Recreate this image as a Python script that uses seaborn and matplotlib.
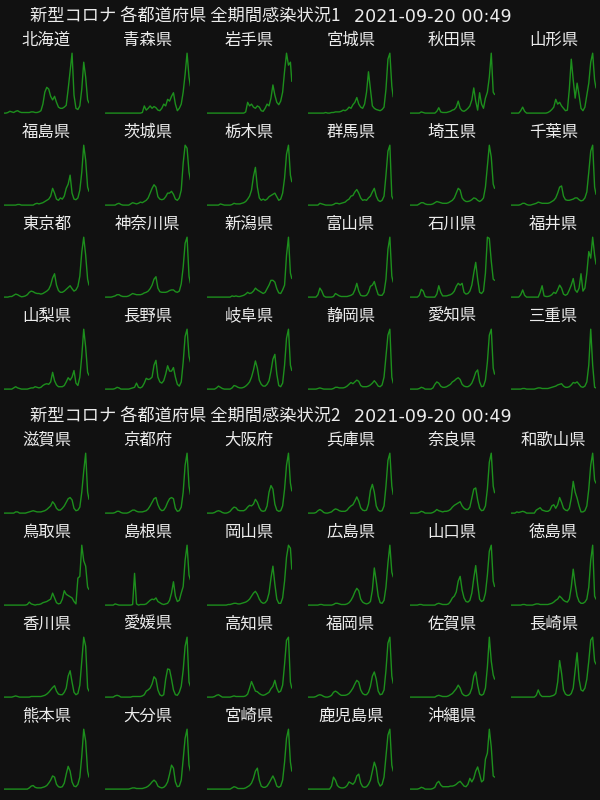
import pandas as pd
import matplotlib.pyplot as plt
import seaborn as sns

# 14日刻みの日付 (最後は 2021-09-19)
dates = list(pd.date_range('2020-01-16', periods=44, freq='14D')) + [pd.Timestamp('2021-09-19')]

# 各県の感染者数 (最大値=100 に正規化した目安値)
hokkaido = [0,0,1,3,2,1,3,4,2,1, 1,1,1,1,2,2,1,1,2,4, 15,35,43,40,28,22,28,18,10,8, 8,10,13,40,70,100,30,8,6,12, 40,85,60,22,17]
aomori = [0,0,0,0,0,0,0,0,0,0, 0,0,0,0,0,0,0,0,0,1, 12,5,8,12,8,11,9,5,4,8, 15,12,23,20,28,34,15,4,8,15, 35,65,100,60,45]
iwate = [0,0,0,0,0,0,0,0,0,0, 0,0,0,0,0,0,0,0,0,0, 2,18,12,15,10,8,12,10,4,3, 8,15,12,25,47,30,18,14,20,35, 70,100,80,85,53]
miyagi = [0,0,0,0,0,0,0,0,0,1, 0,0,1,1,2,2,2,3,5,4, 6,10,8,14,18,26,15,10,8,15, 35,69,40,12,8,6,5,4,6,10, 40,90,100,45,27]
akita = [0,0,0,0,0,0,2,1,0,0, 0,0,0,0,3,9,2,1,1,1, 2,3,5,6,10,20,8,4,3,5, 8,12,22,42,20,5,34,15,8,25, 35,60,100,35,31]
yamagata = [0,0,0,0,0,4,10,3,0,0, 0,0,0,0,0,0,0,0,0,1, 3,6,10,23,15,18,12,8,4,5, 40,90,55,25,50,30,8,4,10,30, 50,85,100,55,42]
fukushima = [0,0,0,0,0,0,0,1,1,0, 0,0,0,0,0,0,2,3,2,3, 4,6,8,10,15,28,20,10,8,12, 10,15,28,35,50,20,10,9,12,25, 55,100,75,30,23]
ibaraki = [0,0,0,0,0,0,2,3,1,0, 0,0,0,2,4,3,2,3,5,4, 6,8,12,20,28,34,30,14,10,9, 10,14,20,20,23,18,10,8,12,25, 70,100,95,55,42]
tochigi = [0,0,0,0,0,0,0,2,1,0, 0,0,0,1,3,2,2,2,3,4, 6,10,15,25,48,63,30,12,8,10, 8,10,14,16,18,20,14,8,10,20, 45,85,100,50,39]
gunma = [0,0,0,0,0,0,3,2,1,0, 0,0,0,1,3,3,2,3,4,5, 8,10,15,16,22,26,20,12,8,9, 8,12,15,22,28,15,8,6,8,15, 50,90,100,15,10]
saitama = [0,0,0,0,0,2,4,4,2,1, 1,1,2,4,6,5,4,3,3,3, 4,6,8,12,20,28,25,12,8,6, 6,7,9,12,11,8,6,8,12,30, 65,100,80,35,28]
chiba = [0,0,0,0,0,1,3,3,1,0, 0,1,2,3,5,4,3,3,3,3, 4,6,8,12,20,30,32,15,9,8, 8,9,10,12,12,9,7,8,12,22, 55,90,100,30,18]
tokyo = [0,0,0,1,1,3,5,4,2,0.5, 1,2,4,8,10,9,7,6,6,5, 6,8,10,13,20,32,39,20,11,8, 8,10,13,16,19,14,10,12,18,35, 75,100,70,30,20]
kanagawa = [0,0,0,0,1,2,4,4,2,1, 1,1,2,4,6,5,4,4,4,5, 7,8,10,14,20,30,34,15,9,8, 8,8,9,11,12,12,9,8,10,22, 50,90,100,35,23]
niigata = [0,0,0,0,0,0,0,0,0,0, 0,0,0,2,1,2,1,1,2,3, 5,8,6,7,10,15,12,10,8,6, 8,14,20,28,28,25,14,7,6,12, 20,70,100,40,31]
toyama = [0,0,0,0,0,4,15,10,2,0, 0,0,0,1,6,4,2,1,1,1, 1,2,3,5,12,23,10,3,2,2, 3,8,18,20,26,14,4,3,3,8, 30,80,100,35,25]
ishikawa = [0,0,0,0,0,3,13,10,1,0, 0,0,0,0,5,19,8,2,2,2, 3,4,6,10,18,23,20,23,8,5, 6,10,20,40,58,30,8,6,10,40, 100,98,60,30,28]
fukui = [0,0,0,0,0,4,12,3,0,0, 0,0,0,0,0,8,19,2,1,1, 2,4,8,6,12,20,15,5,3,5, 12,20,31,12,8,15,39,10,15,40, 76,65,100,70,55]
yamanashi = [0,0,0,0,0,2,4,2,1,0, 0,0,0,1,2,2,4,3,2,3, 6,8,9,8,12,28,14,7,4,4, 4,6,12,19,15,20,31,10,6,20, 55,100,70,28,23]
nagano = [0,0,0,0,0,1,3,2,0,0, 0,0,0,1,2,3,10,3,2,4, 10,18,16,17,20,40,48,20,12,10, 14,25,39,30,30,36,20,8,5,12, 45,88,100,55,45]
gifu = [0,0,0,0,0,2,5,3,1,0, 0,0,0,2,6,5,3,2,2,3, 5,8,12,20,32,47,35,15,8,5, 5,8,14,30,50,58,25,6,4,10, 40,85,100,40,31]
shizuoka = [0,0,0,0,0,1,2,1,0,0, 0,0,0,1,3,3,2,2,2,3, 5,8,11,9,12,15,13,6,4,4, 4,5,7,10,14,10,5,4,7,20, 55,90,100,20,10]
aichi = [0,0,0,0,0,1,3,2,0,0, 0,0,2,8,12,10,5,3,3,4, 6,8,12,14,17,19,16,8,5,4, 4,6,10,18,28,32,12,4,5,15, 45,90,100,35,25]
mie = [0,0,0,0,0,0,1,1,0,0, 0,0,0,1,2,2,1,1,1,1, 2,3,4,5,7,8,9,5,3,3, 4,7,11,10,12,8,4,3,5,12, 40,100,40,3,2]

shiga = [0,0,0,0,0,0,2,2,0,0, 0,0,1,2,3,4,3,2,2,2, 3,4,6,9,12,19,15,8,5,5, 8,12,18,24,26,22,8,4,5,10, 35,70,100,35,23]
kyoto = [0,0,0,0,0,1,3,3,1,0, 0,0,1,3,5,5,3,2,2,2, 3,4,7,12,18,24,26,14,7,4, 5,10,18,24,26,24,8,3,4,10, 35,80,100,45,31]
osaka = [0,0,0,0,1,3,4,3,1,0, 0,1,3,7,10,9,5,4,4,4, 6,10,13,12,15,23,18,9,4,3, 4,12,35,46,40,15,5,3,4,12, 40,80,100,50,37]
hyogo = [0,0,0,0,1,4,6,4,1,0, 0,1,2,5,7,6,4,3,3,3, 5,9,12,14,20,27,20,9,5,4, 5,15,38,48,35,12,5,3,4,12, 45,88,100,45,31]
nara = [0,0,0,0,0,1,3,2,0,0, 0,0,1,3,6,4,3,2,3,3, 4,6,10,13,15,17,19,12,8,6, 6,10,25,40,42,22,8,4,5,12, 40,85,100,45,34]
wakayama = [0,0,0,2,1,2,3,2,0,0, 0,0,0,5,7,9,5,4,3,3, 5,12,14,8,14,26,18,8,5,4, 8,25,53,35,25,12,2,2,4,12, 40,80,100,55,50]
tottori = [0,0,0,0,0,0,0,0,0,0, 0,0,1,5,2,1,0,1,1,2, 4,5,6,8,10,20,12,4,2,3, 10,24,18,16,14,12,6,2,45,48, 100,74,65,30,26]
shimane = [0,0,0,0,0,2,1,0,0,0, 0,0,0,0,1,53,2,0,1,1, 1,2,5,8,10,9,12,6,4,2, 1,2,3,8,20,39,15,6,8,20, 31,75,100,50,42]
okayama = [0,0,0,0,0,0,0,0,0,0, 0,1,1,2,3,3,2,2,3,4, 5,7,10,15,20,23,18,10,5,3, 4,8,20,45,65,35,10,3,3,12, 40,80,100,95,60]
hiroshima = [0,0,0,0,0,0,1,1,0,0, 0,0,0,1,3,3,2,1,1,1, 2,4,8,14,22,28,24,10,5,3, 2,3,6,25,62,40,15,4,3,8, 30,70,100,55,47]
yamaguchi = [0,0,0,0,0,1,1,0,0,0, 0,0,0,0,2,3,2,1,1,1, 2,6,12,15,22,40,48,25,12,6, 5,8,20,45,66,35,10,6,8,20, 50,90,100,40,31]
tokushima = [0,0,0,0,0,0,1,1,0,0, 0,0,1,2,2,1,1,1,1,1, 2,3,5,8,10,15,12,8,6,5, 10,30,60,35,15,6,3,3,5,10, 30,75,100,15,10]
kagawa = [0,0,0,0,0,1,2,1,0,0, 0,0,0,0,1,1,1,1,1,1, 2,3,5,8,12,16,19,10,5,4, 4,8,15,35,44,25,8,4,6,20, 60,100,85,15,10]
ehime = [0,0,0,0,0,2,3,2,0,0, 0,0,0,0,1,1,1,1,1,2, 4,10,12,15,22,34,30,12,4,2, 4,30,47,46,30,12,4,3,8,18, 45,85,100,25,18]
kochi = [0,0,0,0,1,3,4,2,0,0, 0,0,0,1,2,1,1,1,1,1, 2,5,15,26,18,10,9,6,4,3, 4,6,8,14,18,28,15,8,10,20, 55,95,100,25,15]
fukuoka = [0,0,0,0,1,3,4,3,1,0, 0,1,3,8,10,8,5,3,3,3, 4,6,10,15,22,28,25,12,6,4, 4,8,18,35,42,30,10,4,5,12, 45,90,100,35,23]
saga = [0,0,0,0,0,0,0,0,0,0, 0,0,0,0,2,3,2,1,1,1, 2,4,6,10,14,20,15,6,3,2, 3,6,15,35,42,20,5,3,5,15, 50,100,60,37,30]
nagasaki = [0,0,0,0,0,0,0,0,0,0, 0,0,0,3,12,4,1,1,1,1, 1,2,3,6,25,61,40,12,5,3, 3,6,15,45,74,30,12,10,15,30, 60,95,100,60,55]
kumamoto = [0,0,0,0,0,0,0,0,0,0, 0,0,0,2,5,6,3,2,2,2, 3,4,6,10,15,22,20,8,4,3, 4,10,25,38,30,12,5,4,8,20, 55,100,80,30,20]
oita = [0,0,0,0,0,0,0,0,0,0, 0,0,0,1,2,2,1,1,1,1, 2,3,5,8,12,15,12,5,3,2, 3,6,12,25,40,35,12,4,5,15, 50,85,100,40,30]
miyazaki = [0,0,0,0,0,0,0,0,0,0, 0,0,0,2,4,3,1,1,1,1, 2,4,6,10,18,30,35,15,5,3, 3,5,10,16,22,15,5,3,5,15, 45,85,100,45,30]
kagoshima = [0,0,0,0,0,0,0,0,0,0, 0,0,5,20,15,6,3,2,2,3, 6,12,10,8,12,22,25,10,4,3, 4,8,15,30,45,35,12,5,8,20, 55,90,100,40,30]
okinawa = [0,0,0,0,0,1,3,2,0,0, 0,0,1,3,10,13,7,4,4,4, 4,5,5,6,8,11,13,9,5,4, 8,18,12,18,30,37,25,12,15,50, 60,100,70,22,20]

names1 = ['北海道', '青森県', '岩手県', '宮城県', '秋田県', '山形県',
          '福島県', '茨城県', '栃木県', '群馬県', '埼玉県', '千葉県',
          '東京都', '神奈川県', '新潟県', '富山県', '石川県', '福井県',
          '山梨県', '長野県', '岐阜県', '静岡県', '愛知県', '三重県']
series1 = [hokkaido, aomori, iwate, miyagi, akita, yamagata,
           fukushima, ibaraki, tochigi, gunma, saitama, chiba,
           tokyo, kanagawa, niigata, toyama, ishikawa, fukui,
           yamanashi, nagano, gifu, shizuoka, aichi, mie]
names2 = ['滋賀県', '京都府', '大阪府', '兵庫県', '奈良県', '和歌山県',
          '鳥取県', '島根県', '岡山県', '広島県', '山口県', '徳島県',
          '香川県', '愛媛県', '高知県', '福岡県', '佐賀県', '長崎県',
          '熊本県', '大分県', '宮崎県', '鹿児島県', '沖縄県']
series2 = [shiga, kyoto, osaka, hyogo, nara, wakayama,
           tottori, shimane, okayama, hiroshima, yamaguchi, tokushima,
           kagawa, ehime, kochi, fukuoka, saga, nagasaki,
           kumamoto, oita, miyazaki, kagoshima, okinawa]
titles = ['新型コロナ 各都道府県 全期間感染状況1', '新型コロナ 各都道府県 全期間感染状況2']
stamp = '2021-09-20 00:49'

bg = '#111111'
green = '#1d8f1d'
fg = '#ececec'

sns.set_theme(style='dark', rc={'axes.facecolor': bg, 'figure.facecolor': bg})
plt.rcParams['font.family'] = ['Noto Sans CJK JP', 'DejaVu Sans']

W, H = 600, 800
fig = plt.figure(figsize=(6, 8), dpi=100, facecolor=bg)

for s, (title, names, series) in enumerate(zip(titles, [names1, names2], [series1, series2])):
    oy = 400 * s
    fig.text(30 / W, 1 - (17 + oy) / H, title, color=fg, fontsize=12.4, ha='left', va='center')
    fig.text(354 / W, 1 - (17 + oy) / H, stamp, color=fg, fontsize=12.6, ha='left', va='center',
             family=['DejaVu Sans'])
    for i, (name, vals) in enumerate(zip(names, series)):
        r, c = divmod(i, 6)
        left = 4 + 101.4 * c
        top = 52 + 92 * r + oy
        ax = fig.add_axes([left / W, 1 - (top + 62) / H, 85 / W, 62 / H])
        df = pd.DataFrame({'date': dates, 'cases': vals})
        sns.lineplot(data=df, x='date', y='cases', ax=ax, color=green, linewidth=1.0)
        ax.set_xlim(dates[0], dates[-1])
        ax.set_ylim(-1.5, max(vals) * 1.02)
        ax.set_axis_off()
        fig.text((left + 42.5) / W, 1 - (top - 12) / H, name, color=fg, fontsize=11.8,
                 ha='center', va='center')

fig.savefig('out.png', dpi=100, facecolor=bg)
